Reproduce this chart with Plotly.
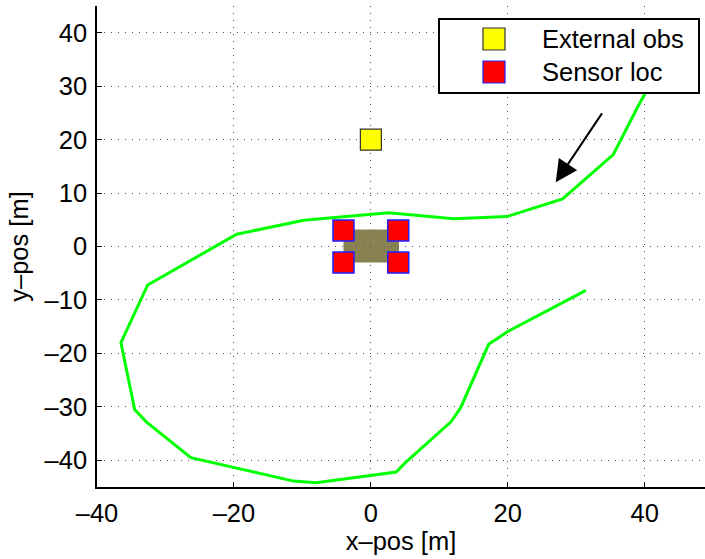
import plotly.graph_objects as go

# trajectory (m)
traj_x = [41.5, 39.0, 35.4, 28.0, 19.9, 12.1, 2.6, -9.8, -19.6, -32.6, -36.5, -34.5, -32.8,
          -26.3, -11.3, -8.0, 3.7, 5.0, 11.7, 13.1, 17.2, 20.0, 31.4]
traj_y = [32.0, 26.2, 17.2, 8.9, 5.6, 5.2, 6.3, 4.9, 2.3, -7.2, -18.0, -30.5, -32.8,
          -39.5, -43.9, -44.2, -42.2, -40.5, -32.8, -30.2, -18.3, -15.9, -8.2]

ext_x = [0]
ext_y = [20]
sens_x = [-4, 4, -4, 4]
sens_y = [3, 3, -3, -3]

car_box = [-4.0, 4.1, -3.0, 3.2]
arrow_head = [27.0, 12.0]
arrow_tail = [33.9, 25.2]

x_ticks = [-40, -20, 0, 20, 40]
x_ticktext = ["–40", "–20", "0", "20", "40"]
y_ticks = [-40, -30, -20, -10, 0, 10, 20, 30, 40]
y_ticktext = ["–40", "–30", "–20", "–10", "0", "10", "20", "30", "40"]

legend_labels = ["External obs", "Sensor loc"]

FONT = "Liberation Sans, Arial, Helvetica, sans-serif"
FS = 25.5

fig = go.Figure()
fig.add_trace(go.Scatter(x=traj_x, y=traj_y, mode="lines",
                         line=dict(color="#00ff00", width=3), showlegend=False))
fig.add_trace(go.Scatter(x=ext_x, y=ext_y, mode="markers", name=legend_labels[0],
                         marker=dict(symbol="square", size=21, color="#ffff00",
                                     line=dict(color="#333333", width=1.2)),
                         showlegend=False))
fig.add_trace(go.Scatter(x=sens_x, y=sens_y, mode="markers", name=legend_labels[1],
                         marker=dict(symbol="square", size=21, color="#ff0000",
                                     line=dict(color="#2020ff", width=1.5)),
                         showlegend=False))

# car body
fig.add_shape(type="rect", x0=car_box[0], x1=car_box[1], y0=car_box[2], y1=car_box[3],
              xref="x", yref="y", fillcolor="#8a8152", line=dict(width=0), layer="below")

# arrow
fig.add_annotation(x=arrow_head[0], y=arrow_head[1], ax=arrow_tail[0], ay=arrow_tail[1],
                   xref="x", yref="y", axref="x", ayref="y", text="",
                   showarrow=True, arrowhead=2, arrowsize=2.2, arrowwidth=2, arrowcolor="black")

# manual legend (paper coords of plot area: left 97, right 705, top 6, bottom 487)
L, R, T, B = 97, 705, 6, 487
def px(x):
    return (x - L) / (R - L)
def py(y):
    return 1 - (y - T) / (B - T)

fig.add_shape(type="rect", xref="paper", yref="paper", x0=px(439), x1=px(699), y0=py(93), y1=py(19),
              fillcolor="white", line=dict(color="black", width=2), layer="above")
leg_styles = [("#ffff00", "#333333"), ("#ff0000", "#2020ff")]
for i, (lab, (fc, lc)) in enumerate(zip(legend_labels, leg_styles)):
    cy = 39 + i * 33
    fig.add_shape(type="rect", xref="paper", yref="paper", x0=px(483), x1=px(505),
                  y0=py(cy + 11), y1=py(cy - 11), fillcolor=fc,
                  line=dict(color=lc, width=1.2), layer="above")
    fig.add_annotation(xref="paper", yref="paper", x=px(540), y=py(cy), text=lab,
                       showarrow=False, xanchor="left", yanchor="middle",
                       font=dict(family=FONT, size=FS, color="black"))

grid_common = dict(showgrid=True, gridcolor="#555555", griddash="1px,6px", gridwidth=1,
                   zeroline=False, showline=True, linecolor="black", linewidth=1.5,
                   ticks="inside", ticklen=5, tickcolor="black", mirror=False,
                   tickfont=dict(family=FONT, size=FS, color="black"))

fig.update_xaxes(range=[-40, 48.8], tickvals=x_ticks, ticktext=x_ticktext,
                 title=dict(text="x–pos [m]", font=dict(family=FONT, size=FS, color="black"), standoff=4),
                 ticklabelstandoff=3, **grid_common)
fig.update_yaxes(range=[-45, 45], tickvals=y_ticks, ticktext=y_ticktext,
                 title=dict(text="y–pos [m]", font=dict(family=FONT, size=FS, color="black"), standoff=9),
                 ticklabelstandoff=3, **grid_common)

fig.update_layout(width=705, height=559, margin=dict(l=97, r=0, t=6, b=72),
                  plot_bgcolor="white", paper_bgcolor="white", showlegend=False,
                  font=dict(family=FONT, size=FS, color="black"))

fig.write_html("out.html")
